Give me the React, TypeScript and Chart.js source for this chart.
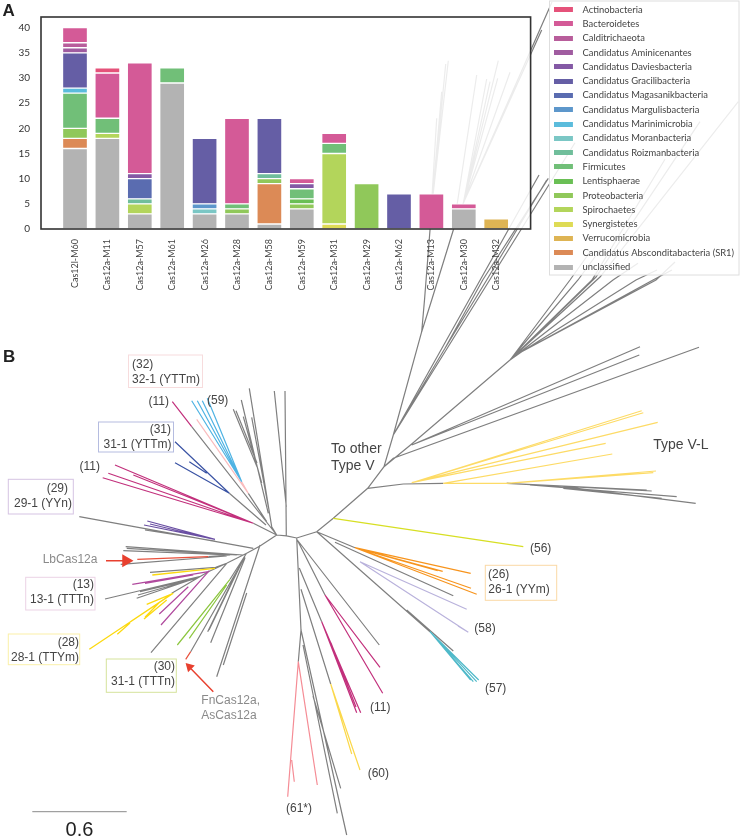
import React, { useEffect, useRef } from "react";
import { Chart, registerables } from "chart.js";

Chart.register(...registerables);

// ---------- Panel A: values ----------
const categories = ["", "Cas12l-M60", "Cas12a-M11", "Cas12a-M57", "Cas12a-M61", "Cas12a-M26", "Cas12a-M28", "Cas12a-M58", "Cas12a-M59", "Cas12a-M31", "Cas12a-M29", "Cas12a-M62", "Cas12a-M13", "Cas12a-M30", "Cas12a-M32", ""];
const unclassified = [0, 16, 18, 3, 29, 3, 3, 1, 4, 0, 0, 0, 0, 4, 0, 0];
const absconditabacteria = [0, 2, 0, 0, 0, 0, 0, 8, 0, 0, 0, 0, 0, 0, 0, 0];
const verrucomicrobia = [0, 0, 0, 0, 0, 0, 0, 0, 0, 0, 0, 0, 0, 0, 2, 0];
const synergistetes = [0, 0, 0, 0, 0, 0, 0, 0, 0, 1, 0, 0, 0, 0, 0, 0];
const spirochaetes = [0, 0, 1, 2, 0, 0, 0, 0, 0, 14, 0, 0, 0, 0, 0, 0];
const proteobacteria = [0, 2, 0, 0, 0, 0, 1, 1, 1, 0, 9, 0, 0, 0, 0, 0];
const lentisphaerae = [0, 0, 0, 0, 0, 0, 0, 0, 1, 0, 0, 0, 0, 0, 0, 0];
const firmicutes = [0, 7, 3, 0, 3, 0, 1, 0, 2, 2, 0, 0, 0, 0, 0, 0];
const roizmanbacteria = [0, 0, 0, 1, 0, 0, 0, 1, 0, 0, 0, 0, 0, 0, 0, 0];
const moranbacteria = [0, 0, 0, 0, 0, 1, 0, 0, 0, 0, 0, 0, 0, 0, 0, 0];
const marinimicrobia = [0, 1, 0, 0, 0, 0, 0, 0, 0, 0, 0, 0, 0, 0, 0, 0];
const margulisbacteria = [0, 0, 0, 0, 0, 1, 0, 0, 0, 0, 0, 0, 0, 0, 0, 0];
const magasanikbacteria = [0, 0, 0, 4, 0, 0, 0, 0, 0, 0, 0, 0, 0, 0, 0, 0];
const gracilibacteria = [0, 7, 0, 0, 0, 13, 0, 11, 0, 0, 0, 7, 0, 0, 0, 0];
const daviesbacteria = [0, 0, 0, 1, 0, 0, 0, 0, 1, 0, 0, 0, 0, 0, 0, 0];
const aminicenantes = [0, 1, 0, 0, 0, 0, 0, 0, 0, 0, 0, 0, 0, 0, 0, 0];
const calditrichaeota = [0, 1, 0, 0, 0, 0, 0, 0, 0, 0, 0, 0, 0, 0, 0, 0];
const bacteroidetes = [0, 3, 9, 22, 0, 0, 17, 0, 1, 2, 0, 0, 7, 1, 0, 0];
const actinobacteria = [0, 0, 1, 0, 0, 0, 0, 0, 0, 0, 0, 0, 0, 0, 0, 0];

const phyla: [string, number[], string][] = [
  ["unclassified", unclassified, "#b3b3b3"],
  ["Candidatus Absconditabacteria (SR1)", absconditabacteria, "#dc8a56"],
  ["Verrucomicrobia", verrucomicrobia, "#deb454"],
  ["Synergistetes", synergistetes, "#dedb55"],
  ["Spirochaetes", spirochaetes, "#b3d55b"],
  ["Proteobacteria", proteobacteria, "#90c85a"],
  ["Lentisphaerae", lentisphaerae, "#6abf55"],
  ["Firmicutes", firmicutes, "#71bf78"],
  ["Candidatus Roizmanbacteria", roizmanbacteria, "#70be9b"],
  ["Candidatus Moranbacteria", moranbacteria, "#7bc7c5"],
  ["Candidatus Marinimicrobia", marinimicrobia, "#5bbcdc"],
  ["Candidatus Margulisbacteria", margulisbacteria, "#5d97cb"],
  ["Candidatus Magasanikbacteria", magasanikbacteria, "#5a6cb0"],
  ["Candidatus Gracilibacteria", gracilibacteria, "#655ea5"],
  ["Candidatus Daviesbacteria", daviesbacteria, "#8459a5"],
  ["Candidatus Aminicenantes", aminicenantes, "#a05ca0"],
  ["Calditrichaeota", calditrichaeota, "#b85d9b"],
  ["Bacteroidetes", bacteroidetes, "#d45a97"],
  ["Actinobacteria", actinobacteria, "#e5527a"],
];

// ---------- Panel B: branches as polylines [x, y, x, y, ...] in tree units ----------
const grayBranches = [
  [276.7, 535, 286.5, 535.8, 296.7, 538, 316.7, 531.7, 333.3, 518.3, 367.7, 488.3, 384, 466.7, 393.3, 435, 421.7, 331.7, 424.5, 300, 430, 230, 433.3, 192.7, 448.3, 60.7],
  [433.3, 192.7, 445.7, 64], [430, 230, 436.7, 118.3], [431, 215, 441.7, 91.7],
  [421.7, 331.7, 431.7, 300, 453.3, 230, 457.3, 203.3, 476.7, 75],
  [453.3, 230, 463.3, 203.3, 498.3, 60.7], [463.3, 203.3, 486.7, 79], [463.3, 203.3, 490, 81.7], [463.3, 203.3, 497.7, 78.3], [463.3, 203.3, 510, 72.3], [463.3, 203.3, 541.7, 30], [463.3, 203.3, 552, 2],
  [393.3, 435, 445, 348.3, 486.7, 280, 546.7, 180], [445, 348.3, 482.7, 280, 548.3, 178.3], [393.3, 435, 575, 142.7], [393.3, 435, 539, 175],
  [384, 466.7, 411.7, 444, 510, 360], [384, 466.7, 393.3, 458.3, 699, 347.3], [411.7, 445, 640, 346.7], [411.7, 445, 639.3, 355],
  [510, 360, 600, 277, 738.3, 101.7], [510, 360, 596, 277, 700, 121.7], [510, 360, 592, 280, 665, 159.3], [510, 360, 613, 280, 638, 263.3], [510, 360, 570, 280, 590, 252], [510, 360, 578, 280, 600, 250],
  [510, 360, 521.7, 351.7, 636, 280, 657, 270], [521.7, 351.7, 656, 280, 675, 262], [521.7, 351.7, 653, 280, 672, 270],
  [367.7, 488.3, 403.3, 484, 443.3, 483.3],
  [506.7, 483.3, 646.7, 490], [506.7, 483.3, 651.7, 491], [530, 485, 676.7, 496.7], [563.3, 486.7, 695.7, 503.3], [563.3, 488.3, 661.7, 498.3],
  [276.7, 535, 271.7, 526.7, 249.3, 388.3], [268.3, 513.3, 241.3, 400], [257, 466.7, 233.3, 409.3], [257, 463, 236, 410.7], [261.7, 483, 243.3, 416.7], [268.3, 506.7, 251.7, 417.3],
  [286.3, 536, 285, 391], [286.3, 506.7, 274.3, 391],
  [276.7, 535, 191.7, 426.7], [266.7, 521.7, 248.3, 493.3], [229.3, 493.3, 266, 525], [253.3, 523.3, 276.7, 535],
  [276.7, 535, 260, 546, 246.7, 553.3, 226.7, 563.3, 215.7, 567.3, 150, 572.3],
  [79.3, 516.7, 253.3, 548.3], [145, 530, 215, 541],
  [243, 555, 125.7, 546.7], [236.7, 555, 126.7, 548.3], [230, 555, 123.3, 550.7], [230, 555, 208.3, 556.7], [226.7, 556, 120.7, 564.3],
  [226.7, 563.3, 208.3, 571.7], [201.7, 576, 105, 599], [200, 576.7, 136.7, 598.3], [196.7, 578.3, 140, 591.7], [198, 578, 138, 595], [208.3, 571.7, 171.7, 593.3],
  [226.7, 563.3, 151, 652.7], [246.7, 553, 230, 579.3], [243, 560, 209, 630], [240, 565, 207.7, 631.7], [245, 558, 210.7, 642.7], [245, 556.7, 190.7, 651.7],
  [260, 545, 216.7, 676.7], [246.7, 593, 223.3, 665],
  [296.7, 538, 301, 630, 298.3, 661.7], [301, 630, 346.7, 835], [303, 645, 337.3, 813.3], [313, 696, 340.7, 788.3],
  [297.3, 540, 379.3, 645], [297.3, 540, 325, 595], [299.3, 568, 321.7, 621.7], [301, 589.3, 330.7, 684],
  [316.7, 531.7, 355, 547.7], [335, 542.3, 453.3, 595.7], [316.7, 531.7, 430, 631.7], [406.7, 610, 453.3, 651],
];
const magentaBranches = [
  [191.7, 426.7, 172.3, 401.7],
  [253.3, 523.3, 115, 465], [253.3, 523.3, 133.3, 475], [253.3, 523.3, 108.3, 473.3], [253.3, 523.3, 102.7, 477.7],
  [325, 595, 380, 667.3], [325, 595, 382.7, 693.3],
  [321.7, 621.7, 360.7, 712.7], [321.7, 621.7, 356.7, 712.7], [331, 643, 356, 707],
];
const skyBranches = [[241.7, 481.7, 191.7, 400.7], [241.7, 481.7, 197.3, 400.7], [241.7, 481.7, 202.3, 400.7], [241.7, 481.7, 207.3, 398.3]];
const blushBranches = [[248.3, 493.3, 196.7, 419.3], [248.3, 493.3, 241.7, 481.7]];
const navyBranches = [[229.3, 493.3, 175, 441.7], [206.7, 473.3, 189.3, 461.7], [229.3, 493.3, 175, 462.7]];
const violetBranches = [[215, 539.3, 147.3, 521], [215, 539.3, 144, 525], [200, 536, 150, 524]];
const orchidBranches = [[208.3, 571.7, 132.3, 584.3], [193.3, 575, 145, 583.3], [209.3, 570.7, 161, 625], [188.3, 586.7, 159.3, 614]];
const redBranches = [[208.3, 556.7, 137.3, 559.3], [190.7, 651.7, 185.7, 659.3]];
const lemonBranches = [
  [215, 568.3, 152.3, 575],
  [173.3, 593.3, 89.3, 649.3], [171.7, 594, 130, 622], [173.3, 593.3, 146.7, 604.3], [166.7, 600, 144, 619], [160, 601.7, 145, 617.3], [130, 623, 117.3, 634.3],
];
const leafBranches = [[230, 579.3, 177.3, 645], [226.7, 585, 189.3, 638.3]];
const salmonBranches = [[298.3, 661.7, 287.7, 796.7], [298.3, 661.7, 317.3, 785], [291.7, 760, 294.3, 781.7]];
const goldBranches = [[330.7, 684, 360, 770], [330.7, 684, 351.7, 754]];
const amberBranches = [
  [411.7, 482.7, 641.7, 410.7], [411.7, 482.7, 643.3, 412.7], [411.7, 482.7, 657.7, 422.3], [411.7, 482.7, 605.7, 443.3],
  [443.3, 483.3, 612.3, 454], [443.3, 483.3, 506.7, 483.3, 656, 471], [506.7, 483.3, 653.3, 472.7],
];
const limeBranches = [[333.3, 518.3, 523.3, 546.7]];
const orangeBranches = [[355, 547.7, 470.7, 573.3], [355, 547.7, 442.7, 571.3], [355, 547.7, 437.7, 570.7], [355, 547.7, 471, 588.3], [355, 547.7, 476.7, 594.3]];
const lavenderBranches = [[360, 561.7, 466.7, 609.3], [360, 561.7, 468.3, 632.3], [458, 626, 468.3, 632.3]];
const tealBranches = [[430, 631.7, 478.7, 680], [430, 631.7, 476.7, 681.7], [430, 631.7, 473.3, 681.7], [430, 631.7, 470.7, 680]];
const scaleBar = [[32.3, 811.7, 126.7, 811.7]];
const arrowShafts = [[106, 560.7, 125, 560.7], [213.3, 691.7, 191, 668.7]];

const branchGroups: [number[][], string, number][] = [
  [arrowShafts, "#e8402f", 1.5],
  [redBranches, "#e8503c", 1.2],
  [magentaBranches, "#c2307c", 1.2],
  [skyBranches, "#4fb3e3", 1.2],
  [blushBranches, "#f9bcbe", 1.2],
  [navyBranches, "#3a53a4", 1.2],
  [violetBranches, "#6a4fa3", 1.2],
  [orchidBranches, "#b04a9e", 1.2],
  [lemonBranches, "#fcd90f", 1.3],
  [leafBranches, "#8cc63f", 1.2],
  [salmonBranches, "#f58c95", 1.2],
  [goldBranches, "#fbd84b", 1.2],
  [amberBranches, "#fddb66", 1.2],
  [limeBranches, "#d7df23", 1.2],
  [orangeBranches, "#f7941d", 1.2],
  [lavenderBranches, "#b9b2dc", 1.2],
  [tealBranches, "#4fb9c9", 1.2],
  [scaleBar, "#8a8a8a", 1],
  [grayBranches, "#7f7f7f", 1.2],
];

const labelBoxes: [number, number, number, number, string][] = [
  [128.5, 355, 202.5, 387.5, "#f7dcdd"],
  [98.5, 422, 173.5, 452, "#b5bce0"],
  [8.3, 479.3, 73.3, 514, "#d5c3e3"],
  [25.7, 577.3, 95, 610, "#ecd3e5"],
  [8.3, 634, 79.7, 664.7, "#fbf0a8"],
  [106.3, 659, 176.3, 692.3, "#d5e39b"],
  [485.3, 565.3, 556.7, 600.3, "#fbd9a5"],
];

const darkLabels: [string, number, number, CanvasTextAlign][] = [
  ["(32)", 132, 365, "left"], ["32-1 (YTTm)", 132, 380, "left"],
  ["(11)", 169, 401.7, "right"], ["(59)", 207, 400.7, "left"],
  ["(31)", 171, 429.5, "right"], ["31-1 (YTTm)", 171.5, 445, "right"],
  ["(11)", 100, 466.7, "right"],
  ["(29)", 68, 488.3, "right"], ["29-1 (YYn)", 72, 503.3, "right"],
  ["(13)", 94, 584.3, "right"], ["13-1 (TTTn)", 94, 600, "right"],
  ["(28)", 79, 642.3, "right"], ["28-1 (TTYm)", 79, 657.7, "right"],
  ["(30)", 175, 666.7, "right"], ["31-1 (TTTn)", 175, 681.7, "right"],
  ["(61*)", 286, 808.3, "left"], ["(60)", 367.7, 774, "left"],
  ["(11)", 370, 708, "left"], ["(57)", 485, 689, "left"],
  ["(58)", 474.3, 628.3, "left"], ["(56)", 530, 548.3, "left"],
  ["(26)", 488, 575, "left"], ["26-1 (YYm)", 488.3, 589.3, "left"],
];
const grayLabels: [string, number, number, CanvasTextAlign][] = [
  ["LbCas12a", 42.7, 560, "left"], ["FnCas12a,", 201.3, 700.7, "left"], ["AsCas12a", 201.3, 715.7, "left"],
];
const largeLabels: [string, number, number, CanvasTextAlign][] = [
  ["To other", 331, 449, "left"], ["Type V", 331, 465.7, "left"], ["Type V-L", 653.3, 445, "left"],
];
const scaleLabel: [string, number, number, CanvasTextAlign] = ["0.6", 79.5, 830, "center"];
const panelLetters: [string, number, number, CanvasTextAlign][] = [["A", 2.5, 11.5, "left"], ["B", 3, 357.7, "left"]];

const polylinesToPoints = (lines: number[][]) => {
  const pts: { x: number; y: number }[] = [];
  lines.forEach((line) => {
    for (let i = 0; i < line.length; i += 2) pts.push({ x: line[i], y: line[i + 1] });
    pts.push({ x: NaN, y: NaN });
  });
  return pts;
};

const swatch = (color: string) => {
  const c = document.createElement("canvas");
  c.width = 24;
  c.height = 5;
  const g = c.getContext("2d")!;
  g.fillStyle = color;
  g.fillRect(0, 0, 19, 5);
  return c;
};

const panelPlugin = {
  id: "panelFrame",
  beforeDraw(chart: any) {
    const { ctx, chartArea: a, legend } = chart;
    ctx.save();
    ctx.fillStyle = "rgba(255,255,255,0.85)";
    ctx.fillRect(a.left - 1.6, 17, a.right - a.left + 3.6, a.bottom - 17);
    ctx.strokeStyle = "#dedede";
    ctx.lineWidth = 1;
    ctx.fillRect(legend.left + 0.5, 1, 189.5, 274);
    ctx.strokeRect(legend.left + 0.5, 1, 189.5, 274);
    ctx.restore();
  },
  afterDatasetsDraw(chart: any) {
    const { ctx, chartArea: a } = chart;
    ctx.save();
    ctx.strokeStyle = "#333333";
    ctx.lineWidth = 1.6;
    ctx.strokeRect(a.left - 1.6, 17, a.right - a.left + 3.6, a.bottom - 17);
    ctx.restore();
  },
};

const treeTextPlugin = {
  id: "treeText",
  beforeDatasetsDraw(chart: any) {
    const { ctx, scales } = chart;
    ctx.save();
    labelBoxes.forEach(([x1, y1, x2, y2, color]) => {
      const l = scales.x.getPixelForValue(x1);
      const t = scales.y.getPixelForValue(y1);
      ctx.strokeStyle = color;
      ctx.lineWidth = 1;
      ctx.strokeRect(l, t, scales.x.getPixelForValue(x2) - l, scales.y.getPixelForValue(y2) - t);
    });
    ctx.restore();
  },
  afterDatasetsDraw(chart: any) {
    const { ctx, scales } = chart;
    const put = (rows: [string, number, number, CanvasTextAlign][], font: string, color: string) => {
      ctx.font = font;
      ctx.fillStyle = color;
      ctx.textBaseline = "middle";
      rows.forEach(([text, x, y, align]) => {
        ctx.textAlign = align;
        ctx.fillText(text, scales.x.getPixelForValue(x), scales.y.getPixelForValue(y));
      });
    };
    ctx.save();
    put(darkLabels, "12px 'Liberation Sans'", "#444444");
    put(grayLabels, "12px 'Liberation Sans'", "#8a8a8a");
    put(largeLabels, "14px 'Liberation Sans'", "#444444");
    put([scaleLabel], "20px 'Liberation Sans'", "#222222");
    put(panelLetters, "bold 17px 'Liberation Sans'", "#222222");
    ctx.restore();
  },
};

const hiddenAxis = (position: string, apply: (s: any) => void) => ({
  position,
  display: true,
  grid: { display: false, drawTicks: false },
  border: { display: false },
  ticks: { display: false },
  afterFit: apply,
});

export default function App() {
  const treeRef = useRef<HTMLCanvasElement>(null);
  const barRef = useRef<HTMLCanvasElement>(null);

  useEffect(() => {
    const tree = new Chart(treeRef.current!, {
      type: "scatter",
      data: {
        datasets: [
          { data: [{ x: 126, y: 560.7 }], pointStyle: "triangle", pointRadius: 7.5, pointRotation: 90, backgroundColor: "#e8402f", borderWidth: 0 } as any,
          { data: [{ x: 189.5, y: 667 }], pointStyle: "triangle", pointRadius: 5.5, pointRotation: -45, backgroundColor: "#e8402f", borderWidth: 0 } as any,
          ...branchGroups.map(([lines, color, width]) => ({
            data: polylinesToPoints(lines),
            showLine: true,
            spanGaps: false,
            pointRadius: 0,
            borderColor: color,
            borderWidth: width,
          })),
        ],
      },
      options: {
        responsive: false,
        animation: false,
        events: [],
        layout: { padding: 0, autoPadding: false },
        plugins: { legend: { display: false }, tooltip: { enabled: false } },
        scales: {
          x: { type: "linear", min: 0, max: 740, display: false },
          y: { type: "linear", min: 0, max: 838, reverse: true, display: false },
        },
      },
      plugins: [treeTextPlugin],
    });

    const bars = new Chart(barRef.current!, {
      type: "bar",
      data: {
        labels: categories,
        datasets: phyla.map(([label, data, color]) => ({
          label,
          data,
          backgroundColor: color,
          borderColor: "rgba(255,255,255,0.9)",
          borderWidth: 1,
          borderSkipped: false,
          barThickness: 25,
        })),
      },
      options: {
        responsive: false,
        animation: false,
        events: [],
        layout: { padding: { left: 0, right: 1, top: 0, bottom: 0 }, autoPadding: false },
        plugins: {
          tooltip: { enabled: false },
          legend: {
            display: true,
            position: "right",
            align: "start",
            reverse: true,
            labels: {
              usePointStyle: true,
              pointStyleWidth: 24,
              padding: 4.9,
              color: "#444444",
              font: { family: "Lato", size: 9.4, lineHeight: 1 },
              generateLabels: (chart: any) =>
                Chart.defaults.plugins.legend.labels.generateLabels(chart).map((item: any) => ({
                  ...item,
                  pointStyle: swatch(phyla[item.datasetIndex][2]),
                  lineWidth: 0,
                })),
            },
          } as any,
        },
        scales: {
          x: {
            type: "category",
            stacked: true,
            offset: false,
            grid: { display: false, drawTicks: false },
            border: { display: false },
            ticks: { autoSkip: false, minRotation: 90, maxRotation: 90, padding: 10, color: "#444444", font: { family: "Lato", size: 9 } },
            afterFit: (s: any) => { s.height = 71; },
          },
          y: {
            type: "linear",
            stacked: true,
            min: 0,
            max: 41.8,
            grid: { display: false, drawTicks: false },
            border: { display: false },
            ticks: { stepSize: 5, includeBounds: false, padding: 12.6, color: "#333333", font: { family: "Lato", size: 10 } },
            afterFit: (s: any) => { s.width = 42.6; },
          },
          gapRight: { type: "linear", ...hiddenAxis("right", (s: any) => { s.width = 20.4; }) },
          gapTop: { type: "category", ...hiddenAxis("top", (s: any) => { s.height = 15.5; }) },
        } as any,
      },
      plugins: [
        panelPlugin,
        {
          id: "legendWidth",
          beforeLayout(chart: any) {
            const legend = chart.legend;
            if (legend && !legend.__fixed) {
              const fit = legend.fit;
              legend.fit = function () {
                fit.call(this);
                this.width = 190;
              };
              legend.__fixed = true;
            }
          },
        },
      ],
    });

    return () => {
      bars.destroy();
      tree.destroy();
    };
  }, []);

  return (
    <div style={{ position: "absolute", left: 0, top: 0, width: 740, height: 838, background: "#fff" }}>
      <canvas ref={treeRef} width={740} height={838} style={{ position: "absolute", left: 0, top: 0 }} />
      <canvas ref={barRef} width={740} height={300} style={{ position: "absolute", left: 0, top: 0 }} />
    </div>
  );
}
